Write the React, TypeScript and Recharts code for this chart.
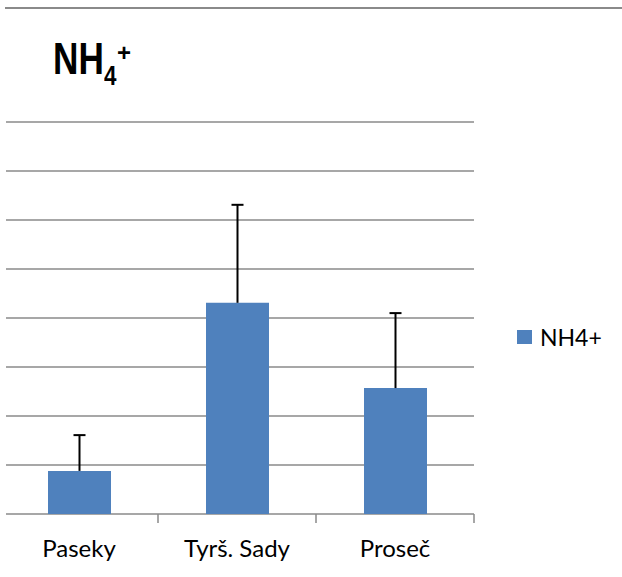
import { Bar, BarChart, CartesianGrid, Legend, XAxis, YAxis } from 'recharts'

const sites = ['Paseky', 'Tyrš. Sady', 'Proseč']
const nh4Values = [0.88, 4.31, 2.57]
const nh4Errors = [0.73, 2.0, 1.53]
const yTicks = [0, 1, 2, 3, 4, 5, 6, 7, 8]

const chartData = sites.map((site, i) => ({
  site,
  value: nh4Values[i],
  err: nh4Errors[i],
}))

const BAR_COLOR = '#4F81BD'
const GRID_COLOR = '#8a8a8a'
const LABEL_FONT = 'Lato, "Open Sans", sans-serif'

// category label plus the boundary tick on the right edge of its band
function SiteTick({ x, y, payload }: any) {
  const edge = x + payload.offset
  return (
    <g>
      <line x1={edge} y1={y - 2} x2={edge} y2={y + 7} stroke={GRID_COLOR} strokeWidth={1.5} />
      <text x={x} y={y + 41} textAnchor="middle" fill="#000" fontSize={24} fontFamily={LABEL_FONT}>
        {payload.value}
      </text>
    </g>
  )
}

// upper error bar: a stacked segment drawn as a T
function ErrorShape({ x, y, width, height }: any) {
  const cx = x + width / 2
  return (
    <g stroke="#000" strokeWidth={2}>
      <line x1={cx} y1={y} x2={cx} y2={y + height} />
      <line x1={cx - 6} y1={y} x2={cx + 6} y2={y} />
    </g>
  )
}

function LegendBox() {
  return (
    <div style={{ display: 'flex', alignItems: 'center', fontFamily: LABEL_FONT, fontSize: 23 }}>
      <span style={{ display: 'inline-block', width: 15, height: 14, background: BAR_COLOR, marginRight: 8 }} />
      <span style={{ color: '#000' }}>NH4+</span>
    </div>
  )
}

export default function App() {
  const titleFont = '"Liberation Sans", Arial, sans-serif'
  return (
    <div style={{ position: 'absolute', left: 0, top: 0, width: 622, height: 577, background: '#fff' }}>
      <div style={{ position: 'absolute', left: 5, top: 7, width: 617, borderTop: `2px solid ${GRID_COLOR}` }} />
      <div style={{ position: 'absolute', left: 0, top: 0, fontFamily: titleFont, fontWeight: 700, color: '#000' }}>
        <span style={{ position: 'absolute', left: 53, top: 36.5, fontSize: 44, lineHeight: 1, transform: 'scaleX(0.8)', transformOrigin: 'left', whiteSpace: 'nowrap' }}>NH</span>
        <span style={{ position: 'absolute', left: 104, top: 62.3, fontSize: 28, lineHeight: 1, transform: 'scaleX(0.8)', transformOrigin: 'left' }}>4</span>
        <span style={{ position: 'absolute', left: 117, top: 40.7, fontSize: 24, lineHeight: 1 }}>+</span>
      </div>
      <BarChart
        width={622}
        height={577}
        data={chartData}
        margin={{ top: 122, right: 48, bottom: 13, left: 0 }}
        barCategoryGap={0}
      >
        <CartesianGrid vertical={false} x={6} width={468} stroke={GRID_COLOR} strokeWidth={1.5} />
        <YAxis hide domain={[0, 8]} ticks={yTicks} />
        <XAxis
          dataKey="site"
          height={50}
          axisLine={false}
          tickLine={false}
          tickSize={0}
          tick={<SiteTick />}
        />
        <Legend
          layout="vertical"
          align="right"
          verticalAlign="top"
          wrapperStyle={{ position: 'absolute', left: 517, top: 323, width: 100 }}
          content={<LegendBox />}
        />
        <Bar dataKey="value" name="NH4+" stackId="s" fill={BAR_COLOR} barSize={63} isAnimationActive={false} />
        <Bar dataKey="err" stackId="s" shape={<ErrorShape />} legendType="none" isAnimationActive={false} />
      </BarChart>
    </div>
  )
}
